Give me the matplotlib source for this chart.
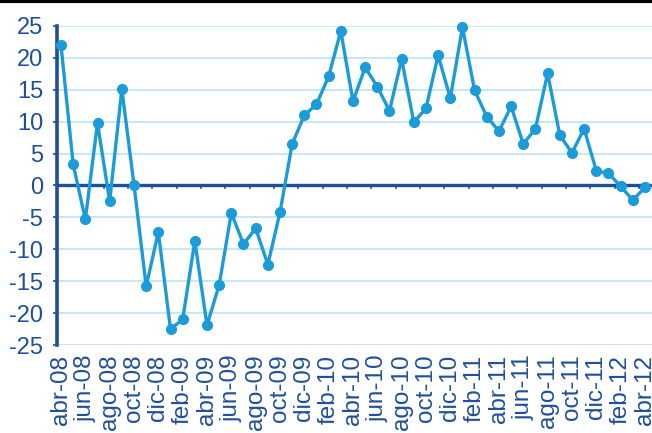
import matplotlib.pyplot as plt
from matplotlib.lines import Line2D

plt.rcParams['font.family'] = ['Liberation Sans', 'DejaVu Sans']

# monthly series, abr-08 .. abr-12
months = ["abr-08", "may-08", "jun-08", "jul-08", "ago-08", "sep-08", "oct-08", "nov-08",
          "dic-08", "ene-09", "feb-09", "mar-09", "abr-09", "may-09", "jun-09", "jul-09",
          "ago-09", "sep-09", "oct-09", "nov-09", "dic-09", "ene-10", "feb-10", "mar-10",
          "abr-10", "may-10", "jun-10", "jul-10", "ago-10", "sep-10", "oct-10", "nov-10",
          "dic-10", "ene-11", "feb-11", "mar-11", "abr-11", "may-11", "jun-11", "jul-11",
          "ago-11", "sep-11", "oct-11", "nov-11", "dic-11", "ene-12", "feb-12", "mar-12",
          "abr-12"]
values = [22.0, 3.3, -5.3, 9.8, -2.5, 15.1, 0.1, -15.8, -7.3, -22.5, -21.0, -8.7, -21.9,
          -15.6, -4.3, -9.2, -6.7, -12.4, -4.2, 6.5, 11.0, 12.7, 17.1, 24.2, 13.2, 18.5,
          15.5, 11.7, 19.8, 9.9, 12.1, 20.4, 13.7, 24.8, 14.9, 10.8, 8.5, 12.4, 6.5, 8.9,
          17.6, 7.9, 5.1, 8.9, 2.3, 1.9, -0.1, -2.3, -0.3]
yticks = [25, 20, 15, 10, 5, 0, -5, -10, -15, -20, -25]

line_col = "#1b9bd7"
dark = "#1d4f9b"
grid_col = "#c3e4f4"

fig = plt.figure(figsize=(6.52, 4.33), dpi=100)
ax = fig.add_axes([57 / 652, 1 - 345 / 433, 1 - 57 / 652, 319 / 433])

x = list(range(len(values)))
ax.plot(x, values, color=line_col, lw=2.4, marker="o", ms=7, zorder=4, clip_on=False)

ax.set_ylim(-25, 25)
ax.set_xlim(-0.33, len(values) - 1 + 0.58)
ax.set_yticks(yticks)
ax.set_yticklabels([str(v) for v in yticks])
for v in yticks:
    if v != 0:
        ax.axhline(v, color=grid_col, lw=1.3, zorder=1)
ax.axhline(0, color=dark, lw=2.4, zorder=3)

# small ticks under the zero line, between categories
for k in range(-1, len(values), 2):
    ax.plot([k + 0.5, k + 0.5], [0, -0.45], color=dark, lw=1.2, zorder=3)

ax.set_xticks(x[::2])
ax.set_xticklabels(months[::2], rotation=90)
ax.tick_params(axis="x", length=0, pad=7, labelsize=17.5, colors=dark)
ax.tick_params(axis="y", length=3, width=1.2, pad=7, labelsize=17, colors=dark)

for s in ["top", "right", "bottom"]:
    ax.spines[s].set_visible(False)
ax.spines["left"].set_color(dark)
ax.spines["left"].set_linewidth(2.6)

fig.add_artist(Line2D([0, 1], [0.997, 0.997], color="black", lw=3, transform=fig.transFigure))

fig.savefig("out.png", dpi=100)
